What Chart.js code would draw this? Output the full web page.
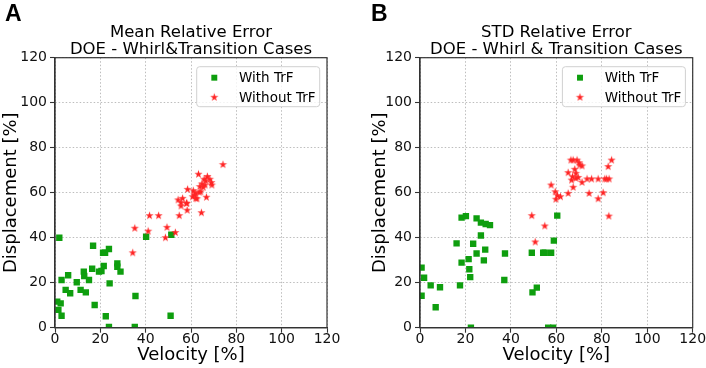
<!DOCTYPE html>
<html><head><meta charset="utf-8">
<script src="https://cdn.jsdelivr.net/npm/chart.js@4.4.0/dist/chart.umd.min.js"></script>
<style>
html,body{margin:0;padding:0;background:#fff;}
#wrap{position:relative;width:706px;height:368px;overflow:hidden;background:#fff;}
.cv{position:absolute;top:0;height:368px;}
.panel{position:absolute;top:2px;font:bold 23px "Liberation Sans",Arial,sans-serif;line-height:23px;color:#000;}
</style></head><body>
<div id="wrap">
<div class="cv" style="left:0;width:353px"><canvas id="c1" width="353" height="368"></canvas></div>
<div class="cv" style="left:353px;width:353px"><canvas id="c2" width="353" height="368"></canvas></div>
<div class="panel" style="left:5px">A</div>
<div class="panel" style="left:371px">B</div>
</div>
<script>
// ---------- DATA ----------
const tickValues = [0, 20, 40, 60, 80, 100, 120];
const seriesNames = ['With TrF', 'Without TrF'];
const titleA = ['Mean Relative Error', 'DOE - Whirl&Transition Cases'];
const titleB = ['STD Relative Error', 'DOE - Whirl & Transition Cases'];
const xLabel = 'Velocity [%]';
const yLabel = 'Displacement [%]';

// Panel A - Mean relative error
const meanWithVel  = [1.9,16.8,21.2,22.1,23.8,40.2,51.3,27.5,27.5,28.9,21.5,19.4,20.5,16.4,12.7,12.9,15,9.6,5.8,2.9,4.7,6.7,11.3,13.6,24.1,35.5,17.5,1,2.5,1.5,2.9,22.4,51,23.8,35.2];
const meanWithDisp = [40,36.4,33.3,33.3,35,40.4,41.3,28.6,27.1,24.9,27.4,24.9,25.2,26.2,24.9,23,21.2,20.2,23.3,21.2,16.8,15.3,16.8,15.7,19.7,14.1,10.1,11.6,10.8,7.9,5.3,5.1,5.3,0.3,0.3];
const meanWithoutVel  = [34.3,35.2,41.7,45.7,41.1,48.7,49.4,53.1,54.8,55.6,54.3,55.6,56.3,58.2,58.3,58.5,61,61.5,62.6,63.6,60.7,62.1,62.1,63.9,64.3,65.4,66.2,66.5,67.2,68.3,69,69.2,63.3,66.8,64.6,74.1,58,65.8,64.8];
const meanWithoutDisp = [33.3,44.2,49.8,49.8,42.9,40,44.6,42.3,49.8,54.1,56.8,55.6,57.5,55.3,52.2,61.5,60.9,59,57.3,60.2,58.2,57.5,59.7,62.7,60.4,62.4,63.4,65.3,67.2,66,64.5,63.4,68.2,58,51.1,72.5,55.3,66,63.9];

// Panel B - STD relative error
const stdWithVel  = [0.7,1.8,0.7,4.7,8.8,6.9,16.1,18.3,20.2,18.3,17.6,21.4,21.7,22.1,22.4,23.4,24.9,26.8,28.9,30.8,26.8,24.9,28.7,28.1,37.4,37.1,49.2,49.5,51.4,54.2,54.9,57.7,58.9,60.4,56.4,58.6];
const stdWithDisp = [26.7,22.2,14.2,18.8,18,9.1,37.5,48.9,49.6,28.9,18.8,30.5,26,22.5,0,37.3,48.6,46.7,46.1,45.6,41,33,34.7,29.9,33,21.2,33.3,15.7,17.8,33.3,33.3,33.3,38.7,49.8,0,0];
const stdWithoutVel  = [49.2,54.9,50.7,57.7,59.5,59.8,60.5,61.8,65.2,67.4,66.7,67.1,68.6,69.6,71.3,65.2,68.6,68.1,66.4,67.4,69.1,70,71.3,70.3,73.5,75.5,78.4,81.3,82.1,83.2,74.4,78.4,80.6,82.8,84.3,83.1];
const stdWithoutDisp = [49.8,45.2,38.1,63.4,60.4,57.1,58.7,58.2,59.7,62.4,65.6,67.1,66.4,66.8,64.6,68.9,68.6,70.4,74.5,74.5,74.5,73.3,71.9,72.3,66.1,66.1,66.1,66.1,66.1,66.1,59.7,57.3,60,71.6,74.5,49.6];

// ---------- STYLE ----------
const GREEN = '#0e9e0e';
const RED = '#ff2424';
const FONT = '"DejaVu Sans", "Noto Sans", sans-serif';

function makeStar(color, R){
  const s = Math.ceil(R*2+2);
  const c = document.createElement('canvas'); c.width = s; c.height = s;
  const g = c.getContext('2d'); g.fillStyle = color; g.beginPath();
  for (let i=0;i<10;i++){ const r = i%2 ? R*0.381966 : R; const a = -Math.PI/2 + i*Math.PI/5;
    g.lineTo(s/2 + r*Math.cos(a), s/2 + r*Math.sin(a)); }
  g.closePath(); g.fill(); return c;
}
const starImg = makeStar(RED, 4.3);

const panelPlugin = {
  id: 'panel',
  afterDraw(chart, args, opts){
    const ctx = chart.ctx, a = chart.chartArea;
    ctx.save();
    ctx.strokeStyle = '#333'; ctx.lineWidth = 1.2;
    ctx.strokeRect(a.left, a.top, a.right - a.left, a.bottom - a.top);
    ctx.fillStyle = '#000'; ctx.font = '16.5px ' + FONT; ctx.textAlign = 'center'; ctx.textBaseline = 'alphabetic';
    const cx = (a.left + a.right)/2;
    ctx.fillText(opts.title[0], cx, 36.7);
    ctx.fillText(opts.title[1], cx, 54);
    // legend
    const bx = a.right - 130.3, by = a.top + 9, bw = 123, bh = 40, r = 3;
    ctx.beginPath();
    ctx.moveTo(bx+r, by); ctx.lineTo(bx+bw-r, by); ctx.arcTo(bx+bw, by, bx+bw, by+r, r);
    ctx.lineTo(bx+bw, by+bh-r); ctx.arcTo(bx+bw, by+bh, bx+bw-r, by+bh, r);
    ctx.lineTo(bx+r, by+bh); ctx.arcTo(bx, by+bh, bx, by+bh-r, r);
    ctx.lineTo(bx, by+r); ctx.arcTo(bx, by, bx+r, by, r); ctx.closePath();
    ctx.fillStyle = 'rgba(255,255,255,0.8)'; ctx.fill();
    ctx.strokeStyle = '#d0d0d0'; ctx.lineWidth = 1; ctx.stroke();
    const mx = a.right - 112.7;
    ctx.fillStyle = GREEN;
    Chart.helpers.drawPoint(ctx, {pointStyle:'rect', radius:4.2, borderWidth:0, rotation:0}, mx, a.top + 20);
    Chart.helpers.drawPoint(ctx, {pointStyle:starImg, radius:4.3, borderWidth:0, rotation:0}, mx, a.top + 39.6);
    ctx.fillStyle = '#000'; ctx.font = '13.5px ' + FONT; ctx.textAlign = 'left';
    ctx.fillText(seriesNames[0], a.right - 88, a.top + 24);
    ctx.fillText(seriesNames[1], a.right - 88, a.top + 44);
    ctx.restore();
  }
};

function axis(label, isY, fitSize, titlePad){
  return {
    type: 'linear', min: tickValues[0], max: tickValues[tickValues.length-1],
    afterFit(s){ if (isY) s.width = fitSize; else s.height = fitSize; },
    afterBuildTicks(s){ s.ticks = tickValues.map(v => ({value: v})); },
    ticks: { font: {family: FONT, size: 14}, color: '#111', padding: isY ? 3 : -2 },
    grid: { color: '#bdbdbd', tickColor: '#333', tickLength: 5, lineWidth: 1, tickWidth: 1.1 },
    border: { color: '#333', width: 1.2, dash: [1.5, 2] },
    title: { display: true, text: label, font: {family: FONT, size: 18}, color: '#000',
      padding: isY ? {top: titlePad, bottom: 0} : {top: 0, bottom: titlePad} }
  };
}

function makeChart(id, title, wx, wy, ox, oy, yAxisW, rightPad, yTitlePad){
  return new Chart(document.getElementById(id), {
    type: 'scatter',
    data: { datasets: [
      { label: seriesNames[0], data: wx.map((x,i)=>({x, y: wy[i]})), pointStyle: 'rect',
        pointRadius: 4.5, pointHoverRadius: 4.5, backgroundColor: GREEN, borderColor: GREEN, borderWidth: 0, order: 1 },
      { label: seriesNames[1], data: ox.map((x,i)=>({x, y: oy[i]})), pointStyle: starImg,
        pointRadius: 4.3, pointHoverRadius: 4.3, backgroundColor: RED, borderColor: RED, borderWidth: 0, order: 0 }
    ]},
    options: {
      responsive: false, animation: false, events: [],
      layout: { padding: { top: 57.7, right: rightPad, bottom: 0, left: 0 } },
      plugins: { legend: {display: false}, tooltip: {enabled: false}, panel: { title } },
      scales: { x: axis(xLabel, false, 40.3, 1.8), y: axis(yLabel, true, yAxisW, yTitlePad) }
    },
    plugins: [panelPlugin]
  });
}

makeChart('c1', titleA, meanWithVel, meanWithDisp, meanWithoutVel, meanWithoutDisp, 55, 26, 1);
makeChart('c2', titleB, stdWithVel, stdWithDisp, stdWithoutVel, stdWithoutDisp, 67, 13.3, 17);
</script>
</body></html>
